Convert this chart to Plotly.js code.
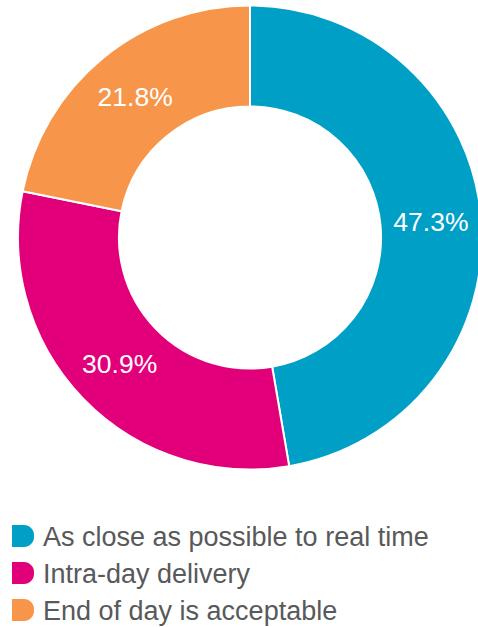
<!DOCTYPE html>
<html>
<head>
<meta charset="utf-8">
<script src="https://cdn.plot.ly/plotly-3.0.1.min.js"></script>
<style>html,body{margin:0;padding:0;background:#fff;overflow:hidden;width:478px;height:627px;}#chart{width:486px;height:627px;}</style>
</head>
<body>
<div id="chart"></div>
<script>
const categories = ["As close as possible to real time", "Intra-day delivery", "End of day is acceptable"];
const values = [47.3, 30.9, 21.8];
const colors = ["#00A0C6", "#E2007A", "#F7964A"];

const W = 486, H = 627;
const px = x => x / W;
const py = y => 1 - y / H;

const trace = {
  type: "pie",
  labels: categories,
  values: values,
  hole: 0.565,
  sort: false,
  direction: "clockwise",
  rotation: 0,
  marker: {colors: colors, line: {color: "#ffffff", width: 2}},
  textinfo: "text",
  texttemplate: "%{value:.1f}%",
  textposition: "inside",
  insidetextorientation: "horizontal",
  textfont: {family: "Liberation Sans, Arial, sans-serif", size: 26.5, color: "#ffffff"},
  hoverinfo: "label+value",
  showlegend: false,
  domain: {x: [px(18), px(482)], y: [py(470), py(5)]}
};

const shapes = [];
const annotations = [];
categories.forEach((c, i) => {
  const cy = 536 + i * 37;
  const x0 = 12, x1 = 34, y0 = cy - 11, y1 = cy + 11, r = 10;
  const path = `M ${px(x0)},${py(y0)} L ${px(x1 - r)},${py(y0)} ` +
    `C ${px(x1 - r + r * 0.55)},${py(y0)} ${px(x1)},${py(y0 + r - r * 0.55)} ${px(x1)},${py(y0 + r)} ` +
    `L ${px(x1)},${py(y1 - r)} ` +
    `C ${px(x1)},${py(y1 - r + r * 0.55)} ${px(x1 - r + r * 0.55)},${py(y1)} ${px(x1 - r)},${py(y1)} ` +
    `L ${px(x0)},${py(y1)} Z`;
  shapes.push({type: "path", xref: "paper", yref: "paper", path: path,
    fillcolor: colors[i], line: {width: 0}});
  annotations.push({xref: "paper", yref: "paper", x: px(41), y: py(cy + 1),
    xanchor: "left", yanchor: "middle", showarrow: false, text: c,
    font: {family: "Liberation Sans, Arial, sans-serif", size: 27, color: "#58595B"}});
});

const layout = {
  width: W, height: H,
  margin: {l: 0, r: 0, t: 0, b: 0},
  paper_bgcolor: "#ffffff",
  showlegend: false,
  shapes: shapes,
  annotations: annotations
};

Plotly.newPlot("chart", [trace], layout, {displayModeBar: false, staticPlot: true});
</script>
</body>
</html>
